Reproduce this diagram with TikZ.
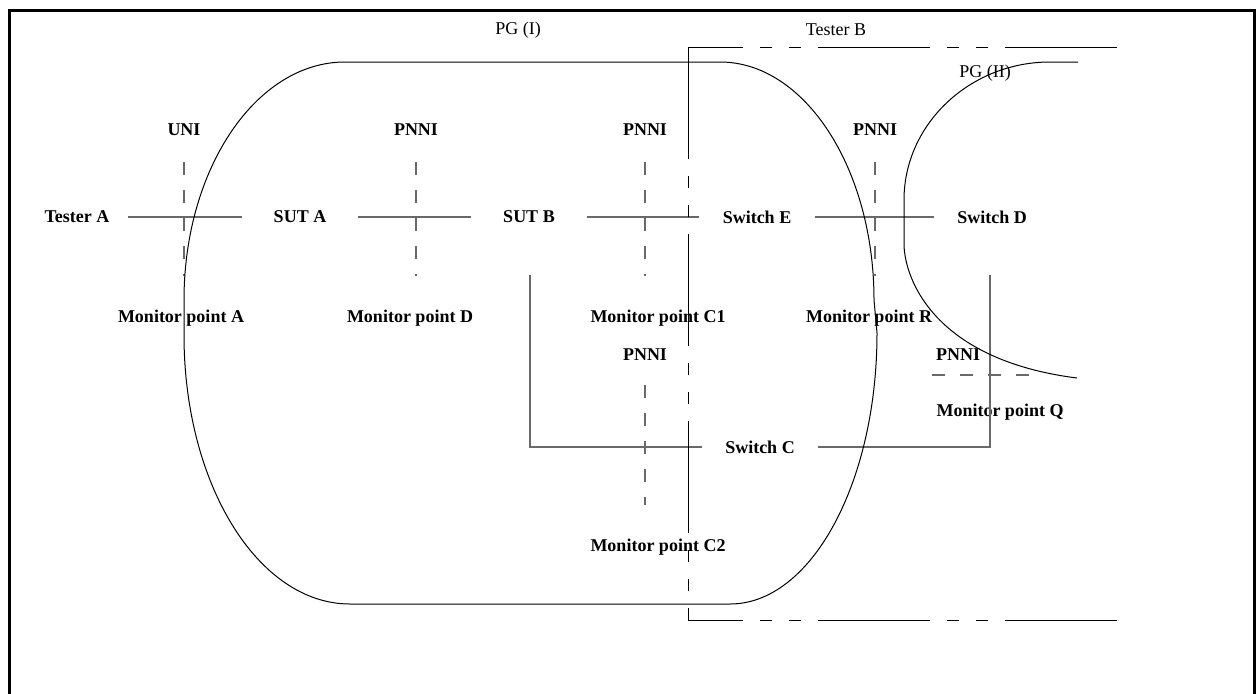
\documentclass[tikz,border=0pt]{standalone}
\usepackage{fontspec}
\setmainfont{Liberation Serif}
\usepackage{tikz}
\usetikzlibrary{positioning, calc}
\definecolor{LinkGray}{RGB}{105,105,105}

\begin{document}
\begin{tikzpicture}[
    x=0.75pt, y=-0.75pt,
    font=\fontsize{13.5}{16}\selectfont,
    dev/.style={font=\fontsize{13.5}{16}\selectfont\bfseries, minimum width=86.25pt, inner sep=0pt},
    lbl/.style={font=\fontsize{13.5}{16}\selectfont\bfseries, inner sep=0pt},
    tag/.style={inner sep=0pt},
    link/.style={draw=LinkGray, line width=0.8pt},
    iface/.style={draw=LinkGray, line width=0.8pt, dash pattern=on 9.75pt off 11.25pt},
    region/.style={line width=0.75pt, dash pattern=on 84pt off 12.75pt on 9pt off 12.75pt on 9pt off 12.75pt},
    pg/.style={line width=0.75pt}
]
\useasboundingbox (0,0) rectangle (1257,693);
\clip (0,0) rectangle (1257,693);

% frame
\draw[line width=2.25pt] (9.5,720) -- (9.5,10.8) -- (1254.5,10.8) -- (1254.5,720);

% devices
\node[dev, minimum width=76.5pt] (testerA) at (77,217) {Tester A};
\node[dev] (sutA) at (300,217) {SUT A};
\node[dev] (sutB) at (529,217) {SUT B};
\node[dev] (switchE) at (757,217) {Switch E};
\node[dev] (switchD) at (992,217) {Switch D};
\node[dev] (switchC) at (760,447) {Switch C};

% interfaces
\node[lbl] (uni) at (184,130) {UNI};
\node[lbl] (pnniAB) at (416,130) {PNNI};
\node[lbl] (pnniBE) at (645,130) {PNNI};
\node[lbl] (pnniED) at (875,130) {PNNI};
\node[lbl] (pnniBC) at (645,355) {PNNI};
\node[lbl] (pnniDC) at (958,355) {PNNI};

% monitor points
\node[lbl] (monA) at (181,318) {Monitor point A};
\node[lbl] (monD) at (410,318) {Monitor point D};
\node[lbl] (monC1) at (658,318) {Monitor point C1};
\node[lbl] (monR) at (869,318) {Monitor point R};
\node[lbl] (monC2) at (658,547) {Monitor point C2};
\node[lbl] (monQ) at (1000,412) {Monitor point Q};

% groups
\node[tag] (pg1) at (518,30) {PG (I)};
\node[tag] (testerB) at (836,30) {Tester B};
\node[tag] (pg2) at (985,73) {PG (II)};

\coordinate (tapB) at (530,275);
\coordinate (tapD) at (990,275);

% links
\draw[link] (testerA) -- (sutA);
\draw[link] (sutA) -- (sutB);
\draw[link] (sutB) -- (switchE);
\draw[link] (switchE) -- (switchD);
\draw[link] (tapB) |- (switchC);
\draw[link] (tapD) |- (switchC);

% interface cuts
\draw[iface] ($(uni)+(0,32)$) -- ($(uni |- monA)+(0,-42)$);
\draw[iface] ($(pnniAB)+(0,32)$) -- ($(pnniAB |- monD)+(0,-42)$);
\draw[iface] ($(pnniBE)+(0,32)$) -- ($(pnniBE |- monC1)+(0,-42)$);
\draw[iface] ($(pnniED)+(0,32)$) -- ($(pnniED |- monR)+(0,-42)$);
\draw[iface] ($(pnniBC)+(0,30)$) -- ($(pnniBC |- monC2)+(0,-42)$);
\draw[iface] ($(pnniDC)+(-26,20)$) -- ($(pnniDC)+(72,20)$);

% Tester B
\draw[region] (1117,47) -- (688,47);
\draw[region] (688,47) -- (688,620);
\draw[region] (1117,620) -- (688,620);

% PG (I)
\draw[pg] (345,62) -- (720,62)
  .. controls (805,62) and (874,169) .. (874,300)
  -- (877,333)
  .. controls (877,483) and (811,604) .. (730,604)
  -- (350,604)
  .. controls (258,604) and (184,484) .. (184,335)
  -- (184,300)
  .. controls (184,169) and (256,62) .. (345,62) -- cycle;

% PG (II)
\draw[pg] (1078,62) -- (1050,62)
  .. controls (970,62) and (904,124) .. (904,200)
  -- (904,245)
  .. controls (905,280) and (935,360) .. (1077,378);

\end{tikzpicture}
\end{document}
